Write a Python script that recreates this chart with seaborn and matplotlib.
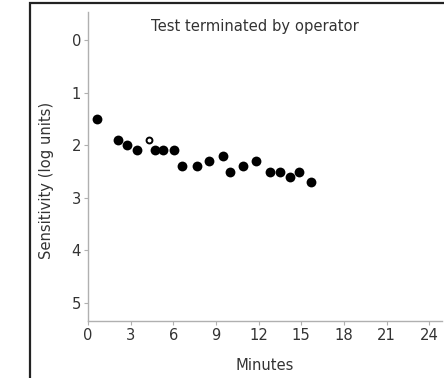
import matplotlib
matplotlib.use("Agg")
import matplotlib.pyplot as plt
import seaborn as sns
import pandas as pd
from matplotlib.patches import Rectangle

# valores
minutes = [0.63, 2.1, 2.75, 3.45, 4.72, 5.28, 6.05, 6.62, 7.65, 8.52,
           9.48, 10.02, 10.89, 11.82, 12.79, 13.49, 14.19, 14.85, 15.69]
sensitivity = [1.5, 1.9, 2.0, 2.1, 2.1, 2.1, 2.1, 2.4, 2.4, 2.3,
               2.2, 2.5, 2.4, 2.3, 2.5, 2.5, 2.6, 2.5, 2.7]
open_minutes = [4.32]
open_sensitivity = [1.9]
x_ticks = [0, 3, 6, 9, 12, 15, 18, 21, 24]
y_ticks = [0, 1, 2, 3, 4, 5]

df = pd.DataFrame({"Minutes": minutes, "Sensitivity": sensitivity})
df_open = pd.DataFrame({"Minutes": open_minutes, "Sensitivity": open_sensitivity})

sns.set_style("white")
plt.rcParams['font.family'] = ['DejaVu Sans']
fs = 10.6

fig = plt.figure(figsize=(4.44, 3.78), dpi=100)
ax = fig.add_axes([0.198, 0.151, 0.7975, 0.817])

sns.scatterplot(data=df, x="Minutes", y="Sensitivity", ax=ax, color="black",
                s=50, edgecolor="black", linewidth=0, zorder=3)
sns.scatterplot(data=df_open, x="Minutes", y="Sensitivity", ax=ax, color="white",
                s=18, edgecolor="black", linewidth=1.4, zorder=3)

ax.set_xlim(0, 24.9)
ax.set_ylim(5.34, -0.53)
ax.set_xticks(x_ticks)
ax.set_yticks(y_ticks)

for side in ["top", "right"]:
    ax.spines[side].set_visible(False)
for side in ["left", "bottom"]:
    ax.spines[side].set_color("#b0b0b0")
    ax.spines[side].set_linewidth(1.0)

ax.tick_params(axis="both", length=3, width=0.8, color="#b0b0b0",
               labelcolor="#333333", labelsize=fs, pad=2, direction="out",
               left=True, bottom=True)

ax.set_xlabel("Minutes", fontsize=fs, color="#333333", labelpad=11)
ax.set_ylabel("Sensitivity (log units)", fontsize=fs, color="#333333")
ax.yaxis.set_label_coords(-0.095, 0.456)
ax.text(11.75, -0.26, "Test terminated by operator", ha="center", va="center",
        fontsize=fs, color="#333333")

# moldura preta à volta da imagem
fig.patches.append(Rectangle((30 / 444, -0.1), 1.2, 1.1 - 3 / 378, transform=fig.transFigure,
                             fill=False, edgecolor="#222222", linewidth=1.6))

fig.savefig("out.png", dpi=100)
